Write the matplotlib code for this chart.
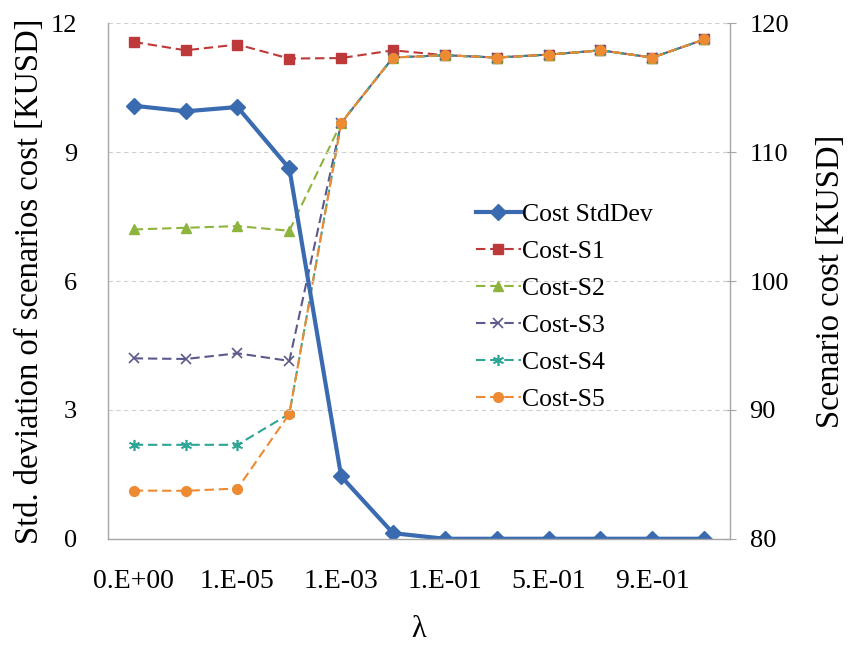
import matplotlib
matplotlib.use("Agg")
import matplotlib.pyplot as plt

plt.rcParams['font.family'] = ['Liberation Serif', 'DejaVu Serif']

lambdas = ["0.E+00", "1.E-06", "1.E-05", "1.E-04", "1.E-03", "1.E-02",
           "1.E-01", "3.E-01", "5.E-01", "7.E-01", "9.E-01", "1.E+00"]

cost_stddev = [10.08, 9.95, 10.05, 8.62, 1.45, 0.13, 0, 0, 0, 0, 0, 0]

cost_s1 = [118.55, 117.9, 118.35, 117.26, 117.3, 117.9,
           117.52, 117.34, 117.57, 117.9, 117.34, 118.74]
cost_s2 = [104.0, 104.13, 104.26, 103.9, 112.27, 117.34,
           117.52, 117.34, 117.57, 117.9, 117.34, 118.74]
cost_s3 = [94.0, 93.95, 94.39, 93.8, 112.27, 117.34,
           117.52, 117.34, 117.57, 117.9, 117.34, 118.74]
cost_s4 = [87.29, 87.29, 87.29, 89.69, 112.27, 117.34,
           117.52, 117.34, 117.57, 117.9, 117.34, 118.74]
cost_s5 = [83.74, 83.72, 83.9, 89.69, 112.27, 117.34,
           117.52, 117.34, 117.57, 117.9, 117.34, 118.74]

x = list(range(len(lambdas)))

fig, ax = plt.subplots(figsize=(8.49, 6.46), dpi=100)
fig.subplots_adjust(left=0.127, right=0.86, top=0.964, bottom=0.166)
ax2 = ax.twinx()

# scenario costs on the right axis
dash = (0, (4.5, 2.3))
ax2.plot(x, cost_s1, color='#BE3A3A', ls=dash, lw=1.5, marker='s', ms=7, label='Cost-S1')
ax2.plot(x, cost_s2, color='#8DB43C', ls=dash, lw=1.5, marker='^', ms=7, label='Cost-S2')
ax2.plot(x, cost_s3, color='#5C5A8C', ls=dash, lw=1.5, marker='x', ms=7, mew=1.2, label='Cost-S3')
ax2.plot(x, cost_s4, color='#2FA596', ls=dash, lw=1.5, marker=(6, 2, 0), ms=8, mew=1.2, label='Cost-S4')
ax2.plot(x, cost_s5, color='#EE8A32', ls=dash, lw=1.5, marker='o', ms=7, label='Cost-S5')

# std deviation on the left axis, drawn above the scenario lines
ax.set_zorder(ax2.get_zorder() + 1)
ax.patch.set_visible(False)
ax.plot(x, cost_stddev, color='#3A6BB0', lw=3, marker='D', ms=8, label='Cost StdDev')

ax.set_xlim(-0.5, len(lambdas) - 0.5)
ax.set_ylim(0, 12)
ax.set_yticks([0, 3, 6, 9, 12])
ax2.set_ylim(80, 120)
ax2.set_yticks([80, 90, 100, 110, 120])

ax.set_xticks(x)
ax.set_xticklabels([lab if i % 2 == 0 else "" for i, lab in enumerate(lambdas)])

ax.yaxis.grid(True, color='#D0D0D0', ls=(0, (4, 3)), lw=0.8)
ax.set_axisbelow(True)

for a in (ax, ax2):
    a.spines['top'].set_visible(False)
    for s in ('left', 'right', 'bottom'):
        a.spines[s].set_color('#A6A6A6')
        a.spines[s].set_linewidth(1.0)
    a.tick_params(labelsize=19)
ax2.spines['left'].set_visible(False)
ax.spines['right'].set_visible(False)
ax2.spines['bottom'].set_visible(False)

ax.tick_params(axis='x', length=0, pad=22, labelsize=20)
ax.tick_params(axis='y', length=0, pad=22)
ax2.tick_params(axis='y', direction='inout', length=8, color='#A6A6A6', pad=10)

ax.set_ylabel('Std. deviation of scenarios cost [KUSD]', fontsize=23.5, labelpad=4)
ax2.set_ylabel('Scenario cost [KUSD]', fontsize=23.5, labelpad=19)
ax.set_xlabel('λ', fontsize=22, labelpad=15)

h1, l1 = ax.get_legend_handles_labels()
h2, l2 = ax2.get_legend_handles_labels()
ax.legend(h1 + h2, l1 + l2, loc='upper left', bbox_to_anchor=(0.575, 0.672),
          frameon=False, fontsize=18.5, handlelength=1.75, handletextpad=0.05,
          labelspacing=0.55, borderaxespad=0)

fig.savefig('out.png', dpi=100)
